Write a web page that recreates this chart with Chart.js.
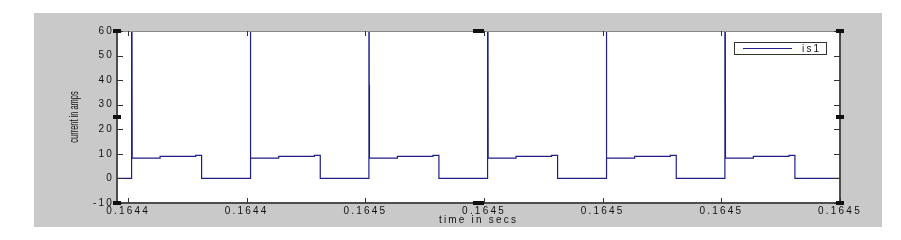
<!DOCTYPE html>
<html>
<head>
<meta charset="utf-8">
<script src="https://cdn.jsdelivr.net/npm/chart.js@4"></script>
<style>
  html, body { margin: 0; padding: 0; background: #ffffff; }
  #frame { position: absolute; left: 34px; top: 13px; width: 848px; height: 214px; background: #c9c9c9; }
  #plot { display: block; }
</style>
</head>
<body>
<div id="frame"><canvas id="plot" width="848" height="214"></canvas></div>
<script>
// time axis in microseconds (164430 us = 0.16443 s), current in amps
const timeUs = [
  164429.07,
  164430.30, 164430.30, 164430.35, 164432.70, 164432.70, 164435.70, 164435.70, 164436.20, 164436.20,
  164440.30, 164440.30, 164440.35, 164442.70, 164442.70, 164445.70, 164445.70, 164446.20, 164446.20,
  164450.30, 164450.30, 164450.33, 164450.33, 164450.36, 164452.70, 164452.70, 164455.70, 164455.70, 164456.20, 164456.20,
  164460.30, 164460.30, 164460.35, 164462.70, 164462.70, 164465.70, 164465.70, 164466.20, 164466.20,
  164470.30, 164470.30, 164470.35, 164472.70, 164472.70, 164475.70, 164475.70, 164476.20, 164476.20,
  164480.30, 164480.30, 164480.35, 164482.70, 164482.70, 164485.70, 164485.70, 164486.20, 164486.20,
  164490.00
];
const currentA = [
  0,
  0, 200, 8.3, 8.3, 9.0, 9.0, 9.4, 9.4, 0,
  0, 200, 8.3, 8.3, 9.0, 9.0, 9.4, 9.4, 0,
  0, 200, 8.3, 38, 8.3, 8.3, 9.0, 9.0, 9.4, 9.4, 0,
  0, 200, 8.3, 8.3, 9.0, 9.0, 9.4, 9.4, 0,
  0, 200, 8.3, 8.3, 9.0, 9.0, 9.4, 9.4, 0,
  0, 200, 8.3, 8.3, 9.0, 9.0, 9.4, 9.4, 0,
  0
];

const xTicks = [164430, 164440, 164450, 164460, 164470, 164480, 164490];
const xTickLabels = ["0.1644", "0.1644", "0.1645", "0.1645", "0.1645", "0.1645", "0.1645"];
const xMin = 164429.07;
const xMax = 164490;
const yMin = -10;
const yMax = 60;
const seriesName = "is1";
const xTitle = "time in secs";
const yTitle = "current in amps";

const points = timeUs.map((t, i) => ({ x: t, y: currentA[i] }));

const spacing = "2.2px";
const textColor = "#111111";
const tickFont = { family: "Liberation Sans, Arial, sans-serif", size: 10 };

// matlab-like frame: inward ticks, edit handles, boxed legend, condensed y title
const matlabFrame = {
  id: "matlabFrame",
  beforeUpdate(chart) {
    chart.ctx.letterSpacing = spacing;
  },
  beforeDraw(chart) {
    const ctx = chart.ctx;
    const a = chart.chartArea;
    ctx.save();
    ctx.fillStyle = "#ffffff";
    ctx.fillRect(a.left, a.top, a.right - a.left, a.bottom - a.top);
    ctx.restore();
    ctx.letterSpacing = spacing;
  },
  afterDraw(chart) {
    const ctx = chart.ctx;
    const a = chart.chartArea;
    const xs = chart.scales.x;
    const ys = chart.scales.y;
    ctx.save();
    ctx.letterSpacing = "0px";

    // axes box
    ctx.strokeStyle = "#8a8a8a";
    ctx.lineWidth = 1;
    ctx.beginPath();
    ctx.moveTo(a.left, a.top + 0.5);
    ctx.lineTo(a.right, a.top + 0.5);
    ctx.stroke();
    ctx.strokeStyle = "#4d4d4d";
    ctx.lineWidth = 2;
    ctx.beginPath();
    ctx.moveTo(a.left, a.top);
    ctx.lineTo(a.left, a.bottom);
    ctx.lineTo(a.right, a.bottom);
    ctx.lineTo(a.right, a.top);
    ctx.stroke();

    // inward tick marks
    ctx.strokeStyle = "#333333";
    ctx.lineWidth = 1;
    ctx.beginPath();
    ys.ticks.forEach((t) => {
      const y = Math.round(ys.getPixelForValue(t.value)) + 0.5;
      ctx.moveTo(a.left, y);
      ctx.lineTo(a.left + 6, y);
      ctx.moveTo(a.right, y);
      ctx.lineTo(a.right - 6, y);
    });
    xs.ticks.forEach((t) => {
      const x = Math.round(xs.getPixelForValue(t.value)) + 0.5;
      ctx.moveTo(x, a.bottom);
      ctx.lineTo(x, a.bottom - 5);
      ctx.moveTo(x, a.top);
      ctx.lineTo(x, a.top + 5);
    });
    ctx.stroke();

    // selection handles
    ctx.fillStyle = "#111111";
    const midX = (a.left + a.right) / 2;
    const midY = (a.top + a.bottom) / 2;
    [
      [a.left, a.top, 8], [midX, a.top, 11], [a.right, a.top, 8],
      [a.left, midY, 8], [a.right, midY, 8],
      [a.left, a.bottom, 8], [midX, a.bottom, 11], [a.right, a.bottom, 8]
    ].forEach(([x, y, w]) => {
      ctx.fillRect(Math.round(x - w / 2), Math.round(y - 2), w, 4);
    });

    // legend
    const ds = chart.data.datasets[0];
    const bw = 92, bh = 12;
    const bx = a.right - 14 - bw;
    const by = a.top + 11;
    ctx.fillStyle = "#ffffff";
    ctx.fillRect(bx, by, bw, bh);
    ctx.strokeStyle = "#333333";
    ctx.lineWidth = 1;
    ctx.strokeRect(bx + 0.5, by + 0.5, bw, bh);
    ctx.strokeStyle = ds.borderColor;
    ctx.lineWidth = 1.2;
    ctx.beginPath();
    ctx.moveTo(bx + 9, by + bh / 2 + 0.5);
    ctx.lineTo(bx + 58, by + bh / 2 + 0.5);
    ctx.stroke();
    ctx.letterSpacing = spacing;
    ctx.fillStyle = textColor;
    ctx.font = "10px Liberation Sans, Arial, sans-serif";
    ctx.textBaseline = "middle";
    ctx.textAlign = "left";
    ctx.fillText(ds.label, bx + 68, by + bh / 2 + 1);

    // y title, squeezed like the exported figure
    ctx.letterSpacing = "0px";
    ctx.translate(41, midY);
    ctx.rotate(-Math.PI / 2);
    ctx.scale(0.62, 1);
    ctx.textAlign = "center";
    ctx.font = "12px Liberation Sans, Arial, sans-serif";
    ctx.fillStyle = textColor;
    ctx.fillText(yTitle, 0, 0);
    ctx.restore();
    ctx.letterSpacing = spacing;
  }
};

new Chart(document.getElementById("plot"), {
  type: "line",
  data: {
    datasets: [{
      label: seriesName,
      data: points,
      borderColor: "#1f1f88",
      borderWidth: 1.2,
      pointRadius: 0,
      tension: 0,
      fill: false
    }]
  },
  options: {
    responsive: false,
    animation: false,
    events: [],
    layout: { padding: { top: 18, right: 42, left: 0, bottom: 0 } },
    plugins: {
      legend: { display: false },
      tooltip: { enabled: false }
    },
    scales: {
      x: {
        type: "linear",
        min: xMin,
        max: xMax,
        afterBuildTicks: (scale) => {
          scale.ticks = xTicks.map((v) => ({ value: v }));
        },
        afterFit: (scale) => { scale.height = 24; },
        grid: { display: false, drawTicks: false },
        border: { display: false },
        ticks: {
          autoSkip: false,
          maxRotation: 0,
          padding: 2,
          color: textColor,
          font: tickFont,
          callback: (v, i) => xTickLabels[i]
        },
        title: {
          display: true,
          text: xTitle,
          color: textColor,
          font: { family: "Liberation Sans, Arial, sans-serif", size: 10, lineHeight: 1.2 },
          padding: { top: 0, bottom: 1 }
        }
      },
      y: {
        min: yMin,
        max: yMax,
        afterFit: (scale) => { scale.width = 83; },
        grid: { display: false, drawTicks: false },
        border: { display: false },
        ticks: {
          stepSize: 10,
          padding: 3,
          color: textColor,
          font: tickFont
        }
      }
    }
  },
  plugins: [matlabFrame]
});
</script>
</body>
</html>
